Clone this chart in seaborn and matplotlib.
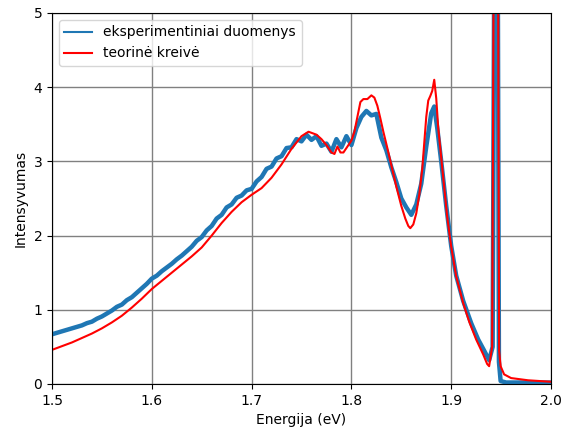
import numpy as np
import pandas as pd
import matplotlib
matplotlib.use("Agg")
import matplotlib.pyplot as plt
import seaborn as sns

exp_energy = [1.500, 1.505, 1.510, 1.515, 1.520, 1.525, 1.530, 1.535, 1.540, 1.545,
              1.550, 1.555, 1.560, 1.565, 1.570, 1.575, 1.580, 1.585, 1.590, 1.595,
              1.600, 1.605, 1.610, 1.615, 1.620, 1.625, 1.630, 1.635, 1.640, 1.645,
              1.650, 1.655, 1.660, 1.665, 1.670, 1.675, 1.680, 1.685, 1.690, 1.695,
              1.700, 1.705, 1.710, 1.715, 1.720, 1.725, 1.730, 1.735, 1.740, 1.745,
              1.750, 1.755, 1.760, 1.765, 1.770, 1.775, 1.780, 1.785, 1.790, 1.795,
              1.800, 1.805, 1.810, 1.815, 1.820, 1.825, 1.830, 1.835, 1.840, 1.845,
              1.850, 1.855, 1.860, 1.865, 1.870, 1.875, 1.880, 1.883, 1.886, 1.890,
              1.895, 1.900, 1.905, 1.912, 1.920, 1.927, 1.933, 1.938, 1.9415, 1.9432,
              1.9450, 1.9466, 1.9478, 1.9495, 1.955, 1.970, 2.000]
exp_intensity = [0.67, 0.69, 0.71, 0.73, 0.75, 0.77, 0.79, 0.82, 0.84, 0.88,
                 0.91, 0.95, 0.99, 1.04, 1.07, 1.13, 1.17, 1.23, 1.29, 1.35,
                 1.42, 1.46, 1.52, 1.57, 1.62, 1.68, 1.73, 1.79, 1.85, 1.93,
                 1.98, 2.07, 2.13, 2.23, 2.28, 2.38, 2.42, 2.51, 2.54, 2.61,
                 2.63, 2.73, 2.79, 2.90, 2.93, 3.04, 3.07, 3.18, 3.19, 3.30,
                 3.27, 3.36, 3.29, 3.34, 3.21, 3.24, 3.13, 3.30, 3.19, 3.34,
                 3.22, 3.45, 3.60, 3.68, 3.62, 3.64, 3.32, 3.15, 2.92, 2.72,
                 2.50, 2.38, 2.28, 2.42, 2.70, 3.20, 3.65, 3.74, 3.45, 3.00,
                 2.40, 1.86, 1.46, 1.12, 0.82, 0.60, 0.45, 0.32, 0.50, 6.00,
                 9.00, 6.00, 0.30, 0.04, 0.02, 0.02, 0.02]

# theoretical curve
th_energy = [1.50, 1.51, 1.52, 1.53, 1.54, 1.55, 1.56, 1.57, 1.58, 1.59,
             1.60, 1.61, 1.62, 1.63, 1.64, 1.65, 1.66, 1.67, 1.68, 1.69,
             1.70, 1.71, 1.72, 1.73, 1.74, 1.75, 1.757, 1.765, 1.770, 1.775,
             1.780, 1.783, 1.786, 1.789, 1.792, 1.796, 1.800, 1.803, 1.806, 1.809,
             1.812, 1.816, 1.820, 1.823, 1.826, 1.829, 1.832, 1.836, 1.840, 1.845,
             1.850, 1.854, 1.857, 1.859, 1.862, 1.865, 1.868, 1.871, 1.873, 1.875,
             1.877, 1.879, 1.881, 1.883, 1.885, 1.887, 1.890, 1.893, 1.896, 1.900,
             1.905, 1.912, 1.918, 1.925, 1.932, 1.936, 1.938, 1.9410, 1.9425, 1.9447,
             1.9470, 1.9480, 1.9495, 1.953, 1.960, 1.977, 2.000]
th_intensity = [0.46, 0.51, 0.56, 0.62, 0.68, 0.75, 0.83, 0.92, 1.03, 1.15,
                1.28, 1.39, 1.50, 1.61, 1.72, 1.84, 2.00, 2.17, 2.32, 2.45,
                2.55, 2.64, 2.78, 2.96, 3.17, 3.34, 3.40, 3.36, 3.30, 3.22,
                3.12, 3.10, 3.20, 3.12, 3.12, 3.20, 3.28, 3.40, 3.60, 3.80,
                3.84, 3.84, 3.89, 3.86, 3.75, 3.58, 3.40, 3.18, 2.95, 2.66,
                2.40, 2.23, 2.13, 2.10, 2.15, 2.30, 2.55, 2.90, 3.25, 3.60,
                3.82, 3.88, 3.95, 4.10, 3.85, 3.45, 3.05, 2.65, 2.25, 1.85,
                1.45, 1.09, 0.84, 0.60, 0.40, 0.27, 0.24, 0.50, 5.50, 9.50,
                5.50, 0.45, 0.24, 0.13, 0.08, 0.05, 0.03]

exp_df = pd.DataFrame({"E": exp_energy, "I": exp_intensity})
th_df = pd.DataFrame({"E": th_energy, "I": th_intensity})

fig = plt.figure(figsize=(5.7, 4.29), dpi=100)
ax = fig.add_axes([0.0912, 0.1049, 0.8755, 0.8648])

sns.lineplot(data=exp_df, x="E", y="I", ax=ax, color="#1f77b4", linewidth=3.2,
             estimator=None, sort=False, label="eksperimentiniai duomenys")
sns.lineplot(data=th_df, x="E", y="I", ax=ax, color="red", linewidth=1.5,
             estimator=None, sort=False, label="teorinė kreivė")

ax.set_xlim(1.5, 2.0)
ax.set_ylim(0, 5)
ax.set_xticks([1.5, 1.6, 1.7, 1.8, 1.9, 2.0])
ax.set_yticks([0, 1, 2, 3, 4, 5])
ax.grid(True, color="gray", linewidth=1)
ax.set_axisbelow(True)
ax.set_xlabel("Energija (eV)")
ax.set_ylabel("Intensyvumas")
leg = ax.legend(loc="upper left")
for line in leg.get_lines():
    line.set_linewidth(1.5)

fig.savefig("out.png", dpi=100)
